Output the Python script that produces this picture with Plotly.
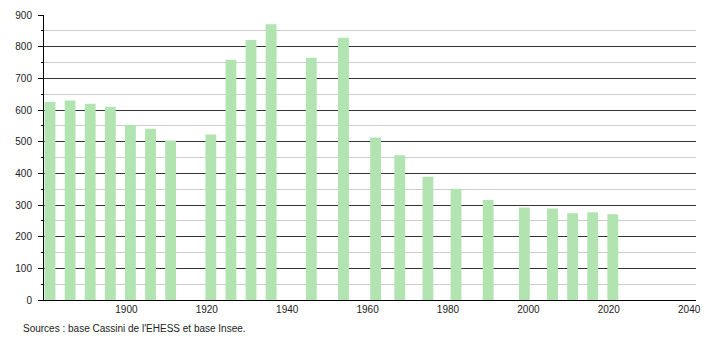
import plotly.graph_objects as go

years = [1881, 1886, 1891, 1896, 1901, 1906, 1911, 1921, 1926, 1931, 1936,
         1946, 1954, 1962, 1968, 1975, 1982, 1990, 1999, 2006, 2011, 2016, 2021]
population = [625, 630, 620, 610, 553, 541, 504, 523, 759, 821, 871,
              765, 828, 513, 457, 389, 351, 316, 292, 289, 274, 277, 271]
x_ticks = [1900, 1920, 1940, 1960, 1980, 2000, 2020, 2040]
source_text = "Sources : base Cassini de l'EHESS et base Insee."

fig = go.Figure()
fig.add_trace(go.Bar(
    x=years, y=population, width=2.7,
    marker=dict(color="#b2e4b2", line=dict(width=0)),
    hoverinfo="x+y",
))

font = "Liberation Sans, Arial, sans-serif"
fig.update_layout(
    width=710, height=340,
    margin=dict(l=44, r=9, t=11, b=40),
    paper_bgcolor="white", plot_bgcolor="white",
    showlegend=False,
    font=dict(family=font, size=10, color="#222222"),
    xaxis=dict(
        range=[1879.5, 2041.7],
        tickmode="array", tickvals=x_ticks, ticktext=[str(v) for v in x_ticks],
        showgrid=False, zeroline=False,
        showline=True, linecolor="#000000", linewidth=1,
        ticks="", ticklabelstandoff=0,
    ),
    yaxis=dict(
        range=[0, 900], dtick=100, tick0=0,
        showgrid=True, gridcolor="#333333", gridwidth=1,
        zeroline=False,
        showline=True, linecolor="#000000", linewidth=1,
        ticks="outside", ticklen=5, tickcolor="#000000", tickwidth=1,
        ticklabelstandoff=4,
        minor=dict(dtick=50, showgrid=True, gridcolor="#cccccc", gridwidth=1,
                   ticks="outside", ticklen=2, tickcolor="#000000"),
    ),
    annotations=[dict(
        text=source_text, xref="paper", yref="paper",
        x=(20.7 - 44) / 657, y=(300 - 329) / 289,
        xanchor="left", yanchor="middle", showarrow=False,
        font=dict(family=font, size=10, color="#222222"),
    )],
)

fig.write_html("out.html")
